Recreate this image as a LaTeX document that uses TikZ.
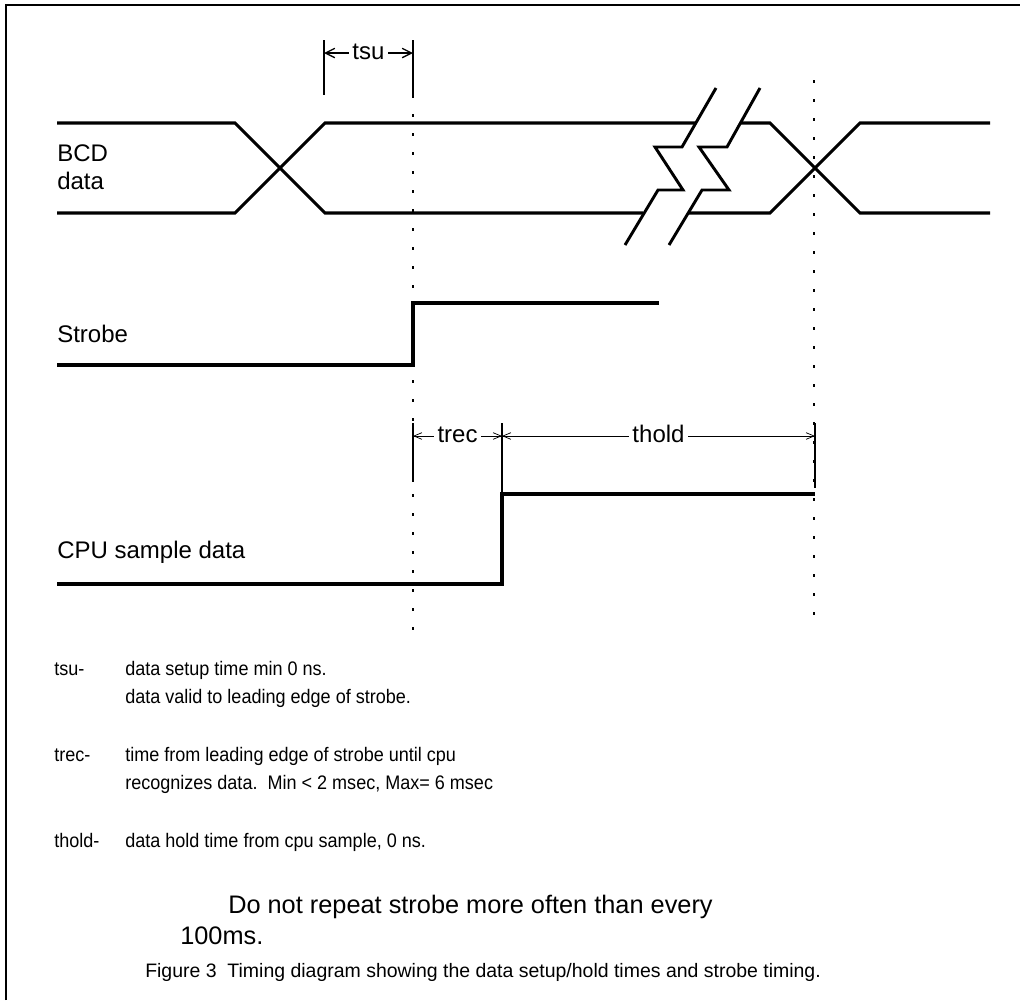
\documentclass[tikz,border=0pt]{standalone}
\usepackage{fontspec}
\setmainfont{Liberation Sans}
\newfontfamily\legendfont[FakeStretch=0.92]{Liberation Sans}
\usetikzlibrary{arrows.meta}
\begin{document}
\begin{tikzpicture}[x=0.75pt,y=-0.75pt,
  sig/.style={line width=2.3pt, line join=miter},
  brk/.style={line width=2.2pt, line join=miter},
  frame/.style={line width=1.9pt},
  guide/.style={line width=0.8pt, dash pattern=on 2.25pt off 12pt},
  tickline/.style={line width=1pt},
  tickthin/.style={line width=0.8pt},
  dimthick/.style={line width=1pt, -{Straight Barb[length=7pt,width=7pt]}},
  dimthin/.style={line width=0.55pt, -{Straight Barb[length=6pt,width=5pt]}},
  lbl/.style={font=\fontsize{18}{20}\selectfont, inner sep=0pt, anchor=base west},
  dimlbl/.style={font=\fontsize{18}{20}\selectfont, inner xsep=2.5pt, inner ysep=0pt, anchor=base},
  txt/.style={font=\legendfont\fontsize{14.7}{17}\selectfont, inner sep=0pt, anchor=base west},
  note/.style={font=\fontsize{19}{22}\selectfont, inner sep=0pt, anchor=base west},
  capt/.style={font=\fontsize{14.6}{17}\selectfont, inner sep=0pt, anchor=base west}
]
\useasboundingbox (0,0) rectangle (1020,1000);
% frame
\draw[frame] (6,1000) -- (6,5) -- (1020,5);

% guide lines
\coordinate (g1t) at (413,95);
\coordinate (g1b) at (413,635);
\coordinate (g2t) at (814,80);
\coordinate (g2b) at (814,620);
\draw[guide] (g1t) -- (g1b);
\draw[guide] (g2t) -- (g2b);

% BCD data
\draw[sig] (57,123) -- (235,123) -- (325,213) -- (643,213);
\draw[sig] (57,213) -- (235,213) -- (325,123) -- (696,123);
\draw[sig] (740,123) -- (770,123) -- (860,213) -- (990,213);
\draw[sig] (688,213) -- (770,213) -- (860,123) -- (990,123);
% break marks
\draw[brk] (716,88) -- (682,147) -- (655,147) -- (683,190) -- (658,190) -- (625,245);
\draw[brk] (760,88) -- (727,147) -- (699,147) -- (729,190) -- (702,190) -- (669,245);

% Strobe
\draw[sig] (57,365) -- (413,365) -- (413,303) -- (659,303);
% CPU sample data
\draw[sig] (57,584) -- (502,584) -- (502,494) -- (815,494);

% labels
\node[lbl] (bcd1) at (57,161) {BCD};
\node[lbl] (bcd2) at (57,189) {data};
\node[lbl] (strobe) at (57,342) {Strobe};
\node[lbl] (cpu) at (57,558) {CPU sample data};

% tsu dimension
\coordinate (tsuL) at (324,53);
\coordinate (tsuR) at (413,53);
\draw[tickline] (324,40) -- (324,95);
\draw[tickline] (413,40) -- (g1t);
\node[dimlbl] (tsu) at (368.5,59) {tsu};
\draw[dimthick] (tsu.west |- tsuL) -- (tsuL);
\draw[dimthick] (tsu.east |- tsuR) -- (tsuR);

% trec / thold dimension
\coordinate (trL) at (413,436);
\coordinate (trM) at (502,436);
\coordinate (trR) at (815,436);
\draw[tickthin] (413,423) -- (413,482);
\draw[tickthin] (502,423) -- (502,494);
\draw[tickthin] (815,423) -- (815,488);
\node[dimlbl] (trec) at (457.5,442) {trec};
\node[dimlbl] (thold) at (658.5,442) {thold};
\draw[dimthin] (trec.west |- trL) -- (trL);
\draw[dimthin] (trec.east |- trM) -- (trM);
\draw[dimthin] (thold.west |- trM) -- (trM);
\draw[dimthin] (thold.east |- trR) -- (trR);

% legend text
\node[txt] (k1) at (54,675) {tsu-};
\node[txt] (d1a) at (125,675) {data setup time min 0 ns.};
\node[txt] (d1b) at (125,703) {data valid to leading edge of strobe.};
\node[txt] (k2) at (54,761) {trec-};
\node[txt] (d2a) at (125,761) {time from leading edge of strobe until cpu};
\node[txt] (d2b) at (125,789) {recognizes data.\ \ Min < 2 msec, Max= 6 msec};
\node[txt] (k3) at (54,847) {thold-};
\node[txt] (d3) at (125,847) {data hold time from cpu sample, 0 ns.};

\node[note] (n1) at (228,913) {Do not repeat strobe more often than every};
\node[note] (n2) at (180,944) {100ms.};
\node[capt] (cap) at (145,977) {Figure 3\ \ Timing diagram showing the data setup/hold times and strobe timing.};
\end{tikzpicture}
\end{document}
